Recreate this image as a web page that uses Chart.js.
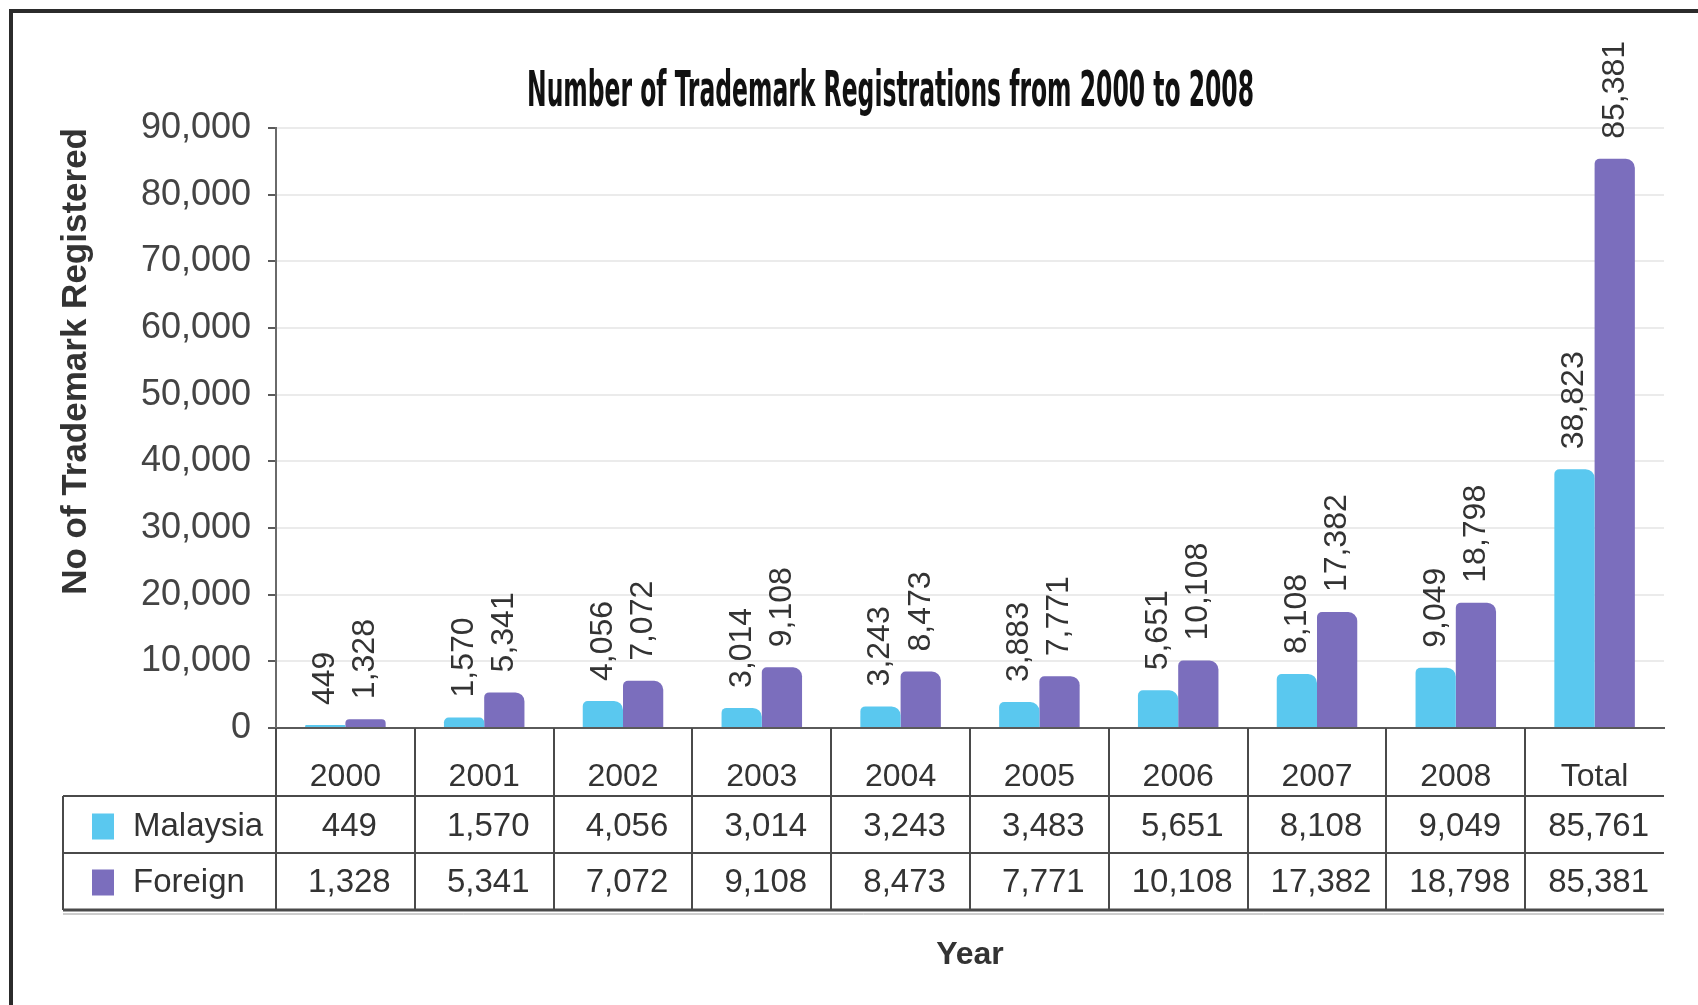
<!DOCTYPE html>
<html><head><meta charset="utf-8">
<script src="https://cdn.jsdelivr.net/npm/chart.js@4.4.0/dist/chart.umd.min.js"></script>
<style>
html,body{margin:0;padding:0;background:#fff;}
#wrap{position:relative;width:1698px;height:1005px;overflow:hidden;background:#fff;}
#frame{position:absolute;left:9px;top:9px;width:1720px;height:1020px;border-left:4px solid #2b2b2b;border-top:4px solid #2b2b2b;pointer-events:none;}
canvas{position:absolute;left:0;top:0;}
</style></head>
<body><div id="wrap"><canvas id="c" width="1698" height="1005"></canvas><div id="frame"></div></div>
<script>
const chartTitle = 'Number of Trademark Registrations from 2000 to 2008';
const categories = ['2000','2001','2002','2003','2004','2005','2006','2007','2008','Total'];
const seriesNames = ['Malaysia','Foreign'];
const malaysia = [449,1570,4056,3014,3243,3883,5651,8108,9049,38823];
const foreign = [1328,5341,7072,9108,8473,7771,10108,17382,18798,85381];
const tableMalaysia = ['449','1,570','4,056','3,014','3,243','3,483','5,651','8,108','9,049','85,761'];
const tableForeign = ['1,328','5,341','7,072','9,108','8,473','7,771','10,108','17,382','18,798','85,381'];
const yTicks = [0,10000,20000,30000,40000,50000,60000,70000,80000,90000];
const yTitle = 'No of Trademark Registered';
const xTitle = 'Year';

const colors = ['#5ac8ef','#7b6ebd'];
const FONT = '"Liberation Sans", Arial, sans-serif';
const fmt = v => v.toLocaleString('en-US');

const titlePlugin = {
  id:'bigTitle',
  afterDraw(chart){
    const ctx = chart.ctx;
    ctx.save();
    ctx.font = 'bold 50px "Liberation Sans Narrow", "DejaVu Sans Condensed", sans-serif';
    ctx.fillStyle = '#111';
    ctx.textBaseline = 'alphabetic';
    ctx.textAlign = 'left';
    const w = ctx.measureText(chartTitle).width;
    const sx = 727 / w;
    ctx.translate(527, 106);
    ctx.scale(sx, 1);
    ctx.fillText(chartTitle, 0, 0);
    ctx.restore();
  }
};

const labelPlugin = {
  id:'barLabels',
  afterDatasetsDraw(chart){
    const ctx = chart.ctx;
    ctx.save();
    ctx.font = '32px ' + FONT;
    ctx.fillStyle = '#333';
    ctx.textAlign = 'left';
    ctx.textBaseline = 'middle';
    chart.data.datasets.forEach((ds, di) => {
      const meta = chart.getDatasetMeta(di);
      meta.data.forEach((el, i) => {
        ctx.save();
        ctx.translate(el.x, el.y - 20);
        ctx.rotate(-Math.PI/2);
        ctx.fillText(fmt(ds.data[i]), 0, 0);
        ctx.restore();
      });
    });
    ctx.restore();
  }
};

const tablePlugin = {
  id:'dataTable',
  afterDraw(chart){
    const {ctx, chartArea:ca, scales:{x}} = chart;
    const n = categories.length;
    const step = x.getPixelForValue(1) - x.getPixelForValue(0);
    const rowTop = 796, rowMid = 853, rowBot = 910, tableLeft = 63;
    ctx.save();
    ctx.strokeStyle = '#4a4a4a';
    ctx.lineWidth = 2;
    ctx.beginPath();
    for (let i = 0; i < n; i++) {
      const xb = Math.round(x.getPixelForValue(i) - step/2);
      ctx.moveTo(xb, ca.bottom); ctx.lineTo(xb, rowBot);
    }
    ctx.moveTo(tableLeft, rowTop); ctx.lineTo(tableLeft, rowBot);
    ctx.moveTo(tableLeft, rowTop); ctx.lineTo(ca.right, rowTop);
    ctx.moveTo(tableLeft, rowMid); ctx.lineTo(ca.right, rowMid);
    ctx.stroke();
    ctx.lineWidth = 3;
    ctx.beginPath();
    ctx.moveTo(tableLeft, rowBot); ctx.lineTo(ca.right, rowBot);
    ctx.stroke();
    ctx.strokeStyle = '#9a9a9a';
    ctx.lineWidth = 1;
    ctx.beginPath();
    ctx.moveTo(tableLeft, rowBot + 4); ctx.lineTo(ca.right, rowBot + 4);
    ctx.stroke();

    const rows = [tableMalaysia, tableForeign];
    const rowY = [(rowTop+rowMid)/2 + 2, (rowMid+rowBot)/2 + 1];
    rows.forEach((vals, r) => {
      ctx.fillStyle = colors[r];
      ctx.fillRect(92, rowY[r]-13, 22, 26);
      ctx.fillStyle = '#333';
      ctx.font = '33px ' + FONT;
      ctx.textBaseline = 'middle';
      ctx.textAlign = 'left';
      ctx.fillText(seriesNames[r], 133, rowY[r]);
      ctx.textAlign = 'center';
      vals.forEach((v, i) => {
        ctx.fillText(v, x.getPixelForValue(i) + 4, rowY[r]);
      });
    });
    ctx.restore();
  }
};

new Chart(document.getElementById('c'), {
  type:'bar',
  data:{
    labels: categories,
    datasets:[
      {label:seriesNames[0], data:malaysia, backgroundColor:colors[0], borderRadius:{topLeft:5, topRight:9, bottomLeft:0, bottomRight:0}, borderSkipped:false},
      {label:seriesNames[1], data:foreign, backgroundColor:colors[1], borderRadius:{topLeft:5, topRight:9, bottomLeft:0, bottomRight:0}, borderSkipped:false}
    ]
  },
  options:{
    responsive:false,
    animation:false,
    devicePixelRatio:1,
    layout:{padding:{top:128, right:34, bottom:0, left:0}},
    datasets:{bar:{categoryPercentage:0.58, barPercentage:1.0}},
    plugins:{legend:{display:false}, tooltip:{enabled:false}, title:{display:false}},
    scales:{
      x:{
        grid:{color:'rgba(0,0,0,0)', drawTicks:false},
        border:{display:true, color:'#5a5a5a', width:2},
        ticks:{padding:30, color:'#333', font:{size:32, family:FONT}},
        title:{display:true, text:xTitle, color:'#333', font:{size:32, weight:'bold', family:FONT}, padding:{top:0, bottom:31}},
        afterFit(s){ s.height = 277; }
      },
      y:{
        min:0, max:90000,
        afterBuildTicks(s){ s.ticks = yTicks.map(v => ({value:v})); },
        ticks:{padding:17, color:'#444', font:{size:36, family:FONT}, callback:v => fmt(v)},
        grid:{color:'#ebebeb', tickColor:'#5a5a5a', tickLength:8, drawTicks:true, lineWidth:2},
        border:{display:true, color:'#6a6a6a', width:2},
        title:{display:true, text:yTitle, align:'end', color:'#333', font:{size:35, weight:'bold', family:FONT}, padding:{top:55, bottom:0}},
        afterFit(s){ s.width = 276; }
      }
    }
  },
  plugins:[labelPlugin, tablePlugin, titlePlugin]
});
</script>
</body></html>
